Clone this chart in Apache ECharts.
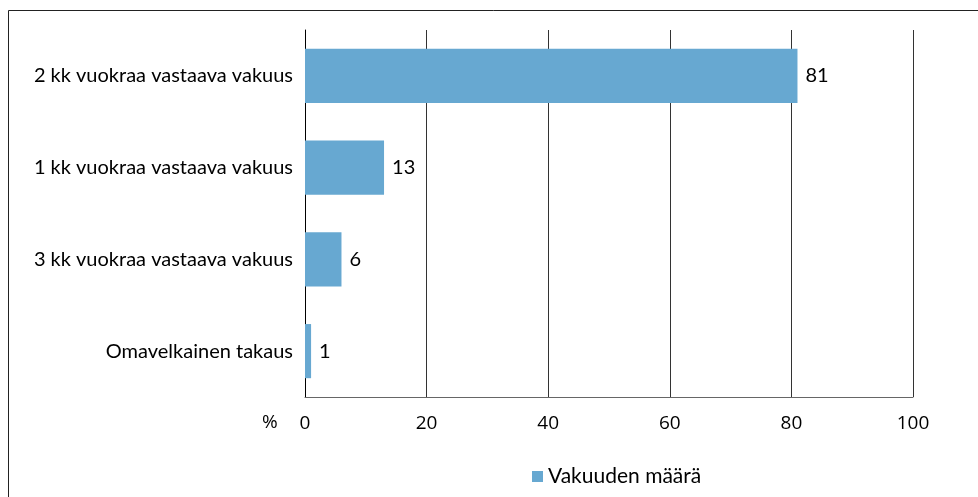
<!DOCTYPE html>
<html>
<head>
<meta charset="utf-8">
<script src="https://cdn.jsdelivr.net/npm/echarts@6/dist/echarts.min.js"></script>
<style>
  html, body { margin: 0; padding: 0; background: #fff; }
  #chart { width: 978px; height: 497px; }
</style>
</head>
<body>
<div id="chart"></div>
<script>
// data (top to bottom)
var categories = ['2 kk vuokraa vastaava vakuus', '1 kk vuokraa vastaava vakuus', '3 kk vuokraa vastaava vakuus', 'Omavelkainen takaus'];
var values = [81, 13, 6, 1];
var seriesName = 'Vakuuden määrä';

var chart = echarts.init(document.getElementById('chart'));

var option = {
  backgroundColor: '#ffffff',
  animation: false,
  textStyle: { fontFamily: 'Lato', color: '#000' },
  grid: { left: 305, right: 65, top: 30, bottom: 100 },
  graphic: [
    {
      type: 'rect',
      shape: { x: 8.5, y: 10.5, width: 1000, height: 600 },
      style: { fill: 'none', stroke: '#222', lineWidth: 1 }
    },
    {
      type: 'text',
      left: 262, top: 413,
      style: { text: '%', fontSize: 19, fontFamily: 'Open Sans', fill: '#000' }
    }
  ],
  legend: {
    bottom: 5,
    left: 527,
    itemWidth: 11,
    itemHeight: 11,
    itemGap: 6,
    icon: 'rect',
    textStyle: { fontSize: 21, fontFamily: 'Lato', color: '#000' },
    data: [seriesName]
  },
  xAxis: {
    type: 'value',
    min: 0,
    max: 100,
    interval: 20,
    axisLine: { show: true, lineStyle: { color: '#666', width: 1 } },
    axisTick: { show: false },
    axisLabel: { fontSize: 19, fontFamily: 'Open Sans', color: '#000', margin: 17 },
    splitLine: { show: true, lineStyle: { color: '#333', width: 1 } }
  },
  yAxis: {
    type: 'category',
    inverse: true,
    data: categories,
    axisLine: { show: true, lineStyle: { color: '#000', width: 1 } },
    axisTick: { show: false },
    axisLabel: { fontSize: 20, fontFamily: 'Lato', color: '#000', margin: 12 }
  },
  series: [{
    name: seriesName,
    type: 'bar',
    data: values,
    barWidth: '59%',
    itemStyle: { color: '#67a8d1' },
    label: {
      show: true,
      position: 'right',
      distance: 8,
      fontSize: 20,
      fontFamily: 'Lato',
      color: '#000'
    }
  }]
};

chart.setOption(option);
</script>
</body>
</html>
